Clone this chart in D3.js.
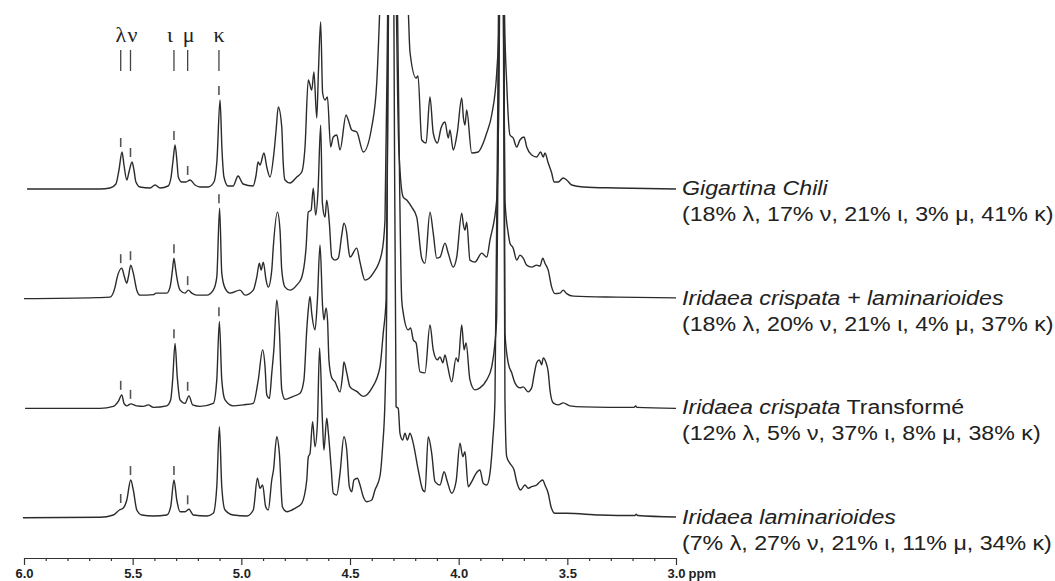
<!DOCTYPE html>
<html>
<head>
<meta charset="utf-8">
<script src="https://cdn.jsdelivr.net/npm/d3@7"></script>
<style>
  body { margin: 0; background: #fff; }
  svg { display: block; }
</style>
</head>
<body>
<div class="canvas"></div>
<script>
// samples, top to bottom
const sampleItalic = ["Gigartina Chili", "Iridaea crispata + laminarioides", "Iridaea crispata", "Iridaea laminarioides"];
const sampleRoman = ["", "", " Transformé", ""];

// carrageenan composition (%)
const pctLambda = [18, 18, 12, 7];
const pctNu = [17, 20, 5, 27];
const pctIota = [21, 21, 37, 21];
const pctMu = [3, 4, 8, 11];
const pctKappa = [41, 37, 38, 34];

// anomeric signals (ppm)
const signals = ["λ", "ν", "ι", "μ", "κ"];
const signalPpm = [5.555, 5.51, 5.31, 5.247, 5.103];
const markedSignals = [
  ["λ", "ν", "ι", "μ", "κ"],
  ["λ", "ν", "ι", "μ", "κ"],
  ["λ", "ν", "ι", "μ", "κ"],
  ["λ", "ν", "ι", "μ"]
];

// axis ticks
const majorTicks = [6.0, 5.5, 5.0, 4.5, 4.0, 3.5, 3.0];
const majorLabels = ["6.0", "5.5", "5.0", "4.5", "4.0", "3.5", "3.0"];
const minorTicks = [5.9, 5.8, 5.7, 5.6, 5.4, 5.3, 5.2, 5.1, 4.9, 4.8, 4.7, 4.6, 4.4, 4.3, 4.2, 4.1,
  3.9, 3.8, 3.7, 3.6, 3.4, 3.3, 3.2, 3.1];

// spectra: [ppm, intensity]
const specGigartina = [
  [5.986, 0], [5.650, 0], [5.604, 1], [5.577, 5], [5.563, 19], [5.549, 37], [5.540, 24], [5.527, 9],
  [5.517, 17], [5.503, 27], [5.494, 19], [5.485, 7], [5.466, 2], [5.420, 1], [5.397, 4], [5.374, 1],
  [5.337, 3], [5.324, 11], [5.314, 29], [5.305, 44], [5.296, 27], [5.290, 12], [5.274, 7], [5.255, 7],
  [5.236, 9], [5.213, 4], [5.190, 2], [5.153, 2], [5.126, 7], [5.112, 29], [5.098, 89], [5.089, 39],
  [5.080, 12], [5.061, 3], [5.038, 3], [5.015, 13], [4.992, 5], [4.946, 3], [4.932, 14], [4.923, 27],
  [4.914, 24], [4.896, 36], [4.883, 22], [4.868, 12], [4.850, 36], [4.840, 59], [4.830, 82], [4.814, 62],
  [4.808, 29], [4.799, 9], [4.776, 6], [4.745, 12], [4.722, 17], [4.707, 42], [4.692, 109], [4.676, 99],
  [4.666, 117], [4.653, 71], [4.645, 119], [4.635, 167], [4.626, 96], [4.615, 89], [4.604, 92], [4.589, 42],
  [4.577, 52], [4.561, 54], [4.546, 39], [4.518, 74], [4.508, 69], [4.492, 59], [4.469, 57], [4.439, 37],
  [4.400, 62], [4.377, 106], [4.364, 174], [4.344, 320], [4.298, 700], [4.252, 320], [4.231, 174],
  [4.224, 137], [4.196, 111], [4.187, 113], [4.170, 49], [4.150, 46], [4.132, 92], [4.117, 56], [4.098, 46],
  [4.081, 61], [4.063, 67], [4.048, 51], [4.040, 59], [4.025, 39], [4.006, 57], [3.986, 91], [3.978, 71],
  [3.971, 64], [3.963, 79], [3.940, 36], [3.910, 37], [3.887, 46], [3.871, 56], [3.848, 74], [3.825, 116],
  [3.813, 174], [3.801, 700], [3.789, 174], [3.779, 106], [3.764, 54], [3.749, 51], [3.733, 42], [3.718, 49],
  [3.699, 52], [3.687, 42], [3.664, 34], [3.641, 32], [3.623, 37], [3.611, 32], [3.603, 36], [3.588, 26],
  [3.572, 16], [3.561, 7], [3.542, 7], [3.519, 11], [3.503, 9], [3.480, 4], [3.427, 2], [3.273, 1], [3.000, 0]
];

const specCrispLamin = [
  [6.000, 0], [5.665, 1], [5.604, 1.5], [5.581, 11.5], [5.571, 21.5], [5.550, 30.5], [5.540, 23.5], [5.527, 15.5],
  [5.519, 22.5], [5.509, 33.5], [5.497, 25.5], [5.481, 8.5], [5.466, 3.5], [5.405, 4], [5.393, 5.5], [5.343, 5.5],
  [5.328, 11.5], [5.317, 28.5], [5.310, 40.5], [5.303, 30.5], [5.297, 21.5], [5.282, 8.5], [5.259, 5.5],
  [5.244, 8.5], [5.228, 5.5], [5.205, 3.5], [5.159, 3.5], [5.129, 8.5], [5.113, 21.5], [5.100, 90.5],
  [5.090, 25.5], [5.075, 10.5], [5.052, 5.5], [5.006, 8.5], [4.983, 3.5], [4.945, 8.5], [4.929, 21.5],
  [4.917, 35.5], [4.909, 28.5], [4.899, 36.5], [4.886, 18.5], [4.876, 11.5], [4.860, 28.5], [4.853, 51.5],
  [4.834, 86.5], [4.822, 68.5], [4.814, 28.5], [4.799, 11.5], [4.776, 8.5], [4.745, 13.5], [4.722, 21.5],
  [4.702, 51.5], [4.692, 86.5], [4.679, 88.5], [4.669, 110.5], [4.658, 83.5], [4.647, 108.5], [4.635, 173.5],
  [4.627, 95.5], [4.615, 81.5], [4.607, 98.5], [4.595, 75.5], [4.584, 41.5], [4.569, 38.5], [4.554, 40.5],
  [4.538, 63.5], [4.528, 75.5], [4.515, 65.5], [4.508, 51.5], [4.500, 41.5], [4.469, 50.5], [4.454, 36.5],
  [4.431, 18.5], [4.393, 25.5], [4.354, 45.5], [4.339, 78.5], [4.327, 283.5], [4.307, 800], [4.286, 283.5],
  [4.275, 148.5], [4.255, 101.5], [4.238, 98.5], [4.216, 91.5], [4.193, 81.5], [4.170, 40.5], [4.155, 35.5],
  [4.132, 86.5], [4.117, 65.5], [4.101, 40.5], [4.086, 41.5], [4.063, 55.5], [4.048, 45.5], [4.025, 31.5],
  [4.009, 41.5], [3.986, 85.5], [3.978, 73.5], [3.971, 68.5], [3.963, 76.5], [3.948, 38.5], [3.925, 36.5],
  [3.894, 45.5], [3.871, 41.5], [3.856, 58.5], [3.825, 98.5], [3.812, 283.5], [3.801, 800], [3.794, 283.5],
  [3.787, 98.5], [3.772, 65.5], [3.764, 55.5], [3.749, 50.5], [3.733, 38.5], [3.718, 43.5], [3.703, 40.5],
  [3.687, 33.5], [3.664, 31.5], [3.641, 33.5], [3.626, 32.5], [3.613, 40.5], [3.603, 35.5], [3.588, 28.5],
  [3.572, 11.5], [3.557, 5], [3.534, 5.5], [3.519, 8.5], [3.503, 5], [3.472, 2.5], [3.273, 1.5], [3.000, 0.8]
];

const specCrispTransf = [
  [5.995, 0], [5.650, 0], [5.589, 2], [5.566, 7], [5.550, 13.5], [5.540, 5], [5.527, 2.5], [5.509, 4.5],
  [5.481, 2.5], [5.451, 2], [5.428, 3.5], [5.405, 1], [5.343, 2.5], [5.325, 8.5], [5.316, 28.5], [5.305, 65],
  [5.295, 32], [5.282, 8.5], [5.259, 5], [5.241, 12.5], [5.224, 3.5], [5.190, 2], [5.129, 5], [5.113, 28.5],
  [5.101, 87], [5.090, 28.5], [5.075, 8.5], [5.037, 2.5], [4.991, 3.5], [4.945, 5], [4.922, 28.5],
  [4.902, 58.5], [4.891, 42], [4.883, 13.5], [4.871, 10], [4.860, 35], [4.850, 60], [4.837, 108.5],
  [4.825, 78.5], [4.814, 18.5], [4.799, 9], [4.761, 12], [4.730, 15], [4.712, 28.5], [4.699, 78.5],
  [4.692, 98.5], [4.684, 112], [4.676, 95], [4.661, 78.5], [4.650, 108.5], [4.638, 163.5], [4.626, 101.5],
  [4.620, 88.5], [4.610, 100.5], [4.603, 86.5], [4.597, 48.5], [4.584, 30.5], [4.569, 26.5], [4.546, 16.5],
  [4.534, 33.5], [4.528, 46.5], [4.515, 35.5], [4.500, 21.5], [4.469, 17], [4.439, 12], [4.400, 20],
  [4.362, 41.5], [4.347, 75.5], [4.334, 108.5], [4.323, 393.5], [4.302, 800], [4.281, 393.5], [4.262, 108.5],
  [4.255, 95.5], [4.232, 78.5], [4.221, 80.5], [4.209, 68.5], [4.196, 65.5], [4.178, 36.5], [4.155, 35.5],
  [4.132, 83.5], [4.117, 58.5], [4.098, 48.5], [4.086, 51.5], [4.073, 45.5], [4.063, 53.5], [4.052, 43.5],
  [4.032, 26.5], [4.012, 50.5], [4.002, 46.5], [3.986, 83.5], [3.975, 58.5], [3.966, 65.5], [3.948, 28.5],
  [3.925, 18.5], [3.902, 20.5], [3.871, 28.5], [3.848, 41.5], [3.833, 65.5], [3.825, 91.5], [3.814, 393.5],
  [3.801, 800], [3.791, 393.5], [3.787, 75.5], [3.772, 45.5], [3.756, 35.5], [3.741, 25.5], [3.718, 20.5],
  [3.703, 21.5], [3.680, 16.5], [3.664, 20.5], [3.653, 33.5], [3.641, 45.5], [3.629, 48.5], [3.618, 43.5],
  [3.611, 50.5], [3.598, 45.5], [3.588, 36.5], [3.580, 18.5], [3.565, 5.5], [3.542, 3.5], [3.519, 5.5],
  [3.488, 2.5], [3.427, 1.5], [3.193, 1], [3.186, 2.5], [3.180, 1], [3.000, 0]
];

const specLamin = [
  [6.005, 0.3], [5.650, 0.7], [5.589, 3], [5.561, 8], [5.543, 10], [5.527, 18], [5.509, 38], [5.497, 28],
  [5.481, 8], [5.458, 3], [5.405, 2], [5.343, 3], [5.325, 11.3], [5.310, 38], [5.297, 18], [5.282, 6.3],
  [5.259, 6.3], [5.241, 8.7], [5.221, 3], [5.159, 2], [5.129, 4.7], [5.113, 31.3], [5.101, 91.3],
  [5.090, 31.3], [5.075, 8], [5.037, 3], [4.975, 2], [4.945, 8], [4.926, 39.7], [4.914, 29.7], [4.902, 33],
  [4.888, 11.3], [4.876, 8], [4.860, 38], [4.852, 48], [4.837, 81.3], [4.825, 64.7], [4.811, 11.3],
  [4.791, 6.3], [4.753, 9.7], [4.722, 14.7], [4.699, 38], [4.692, 61], [4.684, 64.7], [4.672, 96.3],
  [4.661, 71.3], [4.650, 94.7], [4.640, 170], [4.627, 98], [4.620, 68], [4.607, 99.7], [4.600, 86.3],
  [4.587, 51.3], [4.577, 24.7], [4.561, 23], [4.546, 44.7], [4.528, 81.3], [4.515, 68], [4.503, 31.3],
  [4.492, 26.3], [4.482, 38], [4.466, 39.7], [4.454, 33], [4.439, 21.3], [4.423, 16.3], [4.400, 18],
  [4.385, 28], [4.362, 42], [4.350, 71.3], [4.339, 118], [4.331, 218], [4.325, 503], [4.311, 1000],
  [4.298, 503], [4.288, 111.3], [4.278, 109.7], [4.270, 84.7], [4.258, 78], [4.247, 84.7], [4.236, 78],
  [4.224, 84.7], [4.209, 74.7], [4.186, 48], [4.165, 28], [4.155, 26.3], [4.140, 81.3], [4.124, 64.7],
  [4.109, 36.3], [4.086, 33], [4.067, 46.3], [4.052, 36.3], [4.032, 24.7], [4.012, 36.3], [3.994, 74.7],
  [3.981, 61.3], [3.971, 66.3], [3.956, 31.3], [3.940, 36.3], [3.920, 44.7], [3.902, 48], [3.887, 34.7],
  [3.871, 33], [3.856, 44.7], [3.843, 78], [3.833, 118], [3.817, 503], [3.801, 1000], [3.794, 503],
  [3.787, 118], [3.779, 61.3], [3.764, 54.7], [3.745, 48], [3.733, 36.3], [3.715, 28], [3.695, 33],
  [3.680, 29.7], [3.664, 31.3], [3.641, 33], [3.626, 36.3], [3.613, 38], [3.603, 33], [3.588, 24.7],
  [3.575, 11.3], [3.557, 4.7], [3.503, 4.7], [3.350, 3], [3.189, 2.5], [3.183, 3.7], [3.177, 2.5], [3.000, 1]
];

const spectra = [specGigartina, specCrispLamin, specCrispTransf, specLamin];

// dimensions
const w = 1055;
const h = 581;
const axisY = 558;
const clipTop = 15;
const labelX = 682;

const svg = d3.select(".canvas").append("svg").attr("width", w).attr("height", h);
svg.append("rect").attr("width", w).attr("height", h).attr("fill", "#fff");

// scales
const x = d3.scaleLinear().domain([6.0, 3.0]).range([24, 676]);
const row = d3.scalePoint().domain(d3.range(spectra.length)).range([189, 518]);
const yInt = d3.scaleLinear().domain([0, 100]).range([0, -100]);

svg.append("clipPath").attr("id", "clip")
  .append("rect").attr("x", 0).attr("y", clipTop).attr("width", w).attr("height", h - clipTop);

const line = d3.line()
  .x((d) => x(d[0]))
  .y((d) => yInt(d[1]))
  .curve(d3.curveMonotoneX);

// spectra
const plots = svg.append("g").attr("clip-path", "url(#clip)");
spectra.forEach((spec, i) => {
  plots.append("path")
    .datum(spec.map((d) => [d[0], d[1]]).sort((a, b) => b[0] - a[0]))
    .attr("transform", `translate(0, ${row(i)})`)
    .attr("d", line)
    .attr("fill", "none")
    .attr("stroke", "#2b2b2b")
    .attr("stroke-width", 1.4)
    .attr("stroke-linejoin", "round");
});

// small markers above assigned peaks
function peakHeight(spec, ppm) {
  return d3.max(spec.filter((d) => Math.abs(d[0] - ppm) <= 0.012), (d) => d[1]) || 0;
}
spectra.forEach((spec, i) => {
  markedSignals[i].forEach((s) => {
    const ppm = signalPpm[signals.indexOf(s)];
    const top = peakHeight(spec, ppm);
    svg.append("line")
      .attr("x1", x(ppm)).attr("x2", x(ppm))
      .attr("y1", row(i) + yInt(top + 5))
      .attr("y2", row(i) + yInt(top + 14))
      .attr("stroke", "#555")
      .attr("stroke-width", 1.6);
  });
});

// header with signal names
const headerDx = [0, 2, -4, 1, 0];
signals.forEach((s, i) => {
  const px = x(signalPpm[i]);
  svg.append("line")
    .attr("x1", px).attr("x2", px)
    .attr("y1", 50).attr("y2", 71)
    .attr("stroke", "#444")
    .attr("stroke-width", 1.3);
  svg.append("text")
    .attr("x", px + headerDx[i])
    .attr("y", 42)
    .attr("text-anchor", "middle")
    .attr("font-family", "'Liberation Serif', 'DejaVu Serif', serif")
    .attr("font-size", 22)
    .attr("fill", "#222")
    .text(s);
});

// sample labels
spectra.forEach((spec, i) => {
  const g = svg.append("g")
    .attr("transform", `translate(${labelX}, ${row(i) + 6}) scale(1.16, 1)`)
    .attr("font-family", "'Liberation Sans', Arial, sans-serif")
    .attr("font-size", 20)
    .attr("fill", "#222");
  const t1 = g.append("text").attr("x", 0).attr("y", 0);
  t1.append("tspan").attr("font-style", "italic").text(sampleItalic[i]);
  if (sampleRoman[i]) t1.append("tspan").text(sampleRoman[i]);
  g.append("text")
    .attr("x", 0)
    .attr("y", 26)
    .text(`(${pctLambda[i]}% λ, ${pctNu[i]}% ν, ${pctIota[i]}% ι, ${pctMu[i]}% μ, ${pctKappa[i]}% κ)`);
});

// x-axis
const xAxis = d3.axisBottom(x)
  .tickValues(majorTicks)
  .tickSize(7)
  .tickSizeOuter(0)
  .tickPadding(4)
  .tickFormat((d, i) => majorLabels[i]);
const axisG = svg.append("g").attr("transform", `translate(0, ${axisY})`).call(xAxis);
axisG.selectAll("text")
  .attr("font-family", "'Liberation Sans', Arial, sans-serif")
  .attr("font-size", 13)
  .attr("font-weight", "bold")
  .attr("fill", "#222");
axisG.selectAll("line, path").attr("stroke", "#333").attr("stroke-width", 1.2);

// "ppm" after the last tick label
axisG.selectAll(".tick").filter((d) => d === 3.0)
  .append("text")
  .attr("x", 12)
  .attr("y", 11)
  .attr("dy", "0.71em")
  .attr("text-anchor", "start")
  .attr("font-family", "'Liberation Sans', Arial, sans-serif")
  .attr("font-size", 13)
  .attr("font-weight", "bold")
  .attr("fill", "#222")
  .text("ppm");

// minor ticks
const minorAxis = d3.axisBottom(x).tickValues(minorTicks).tickSize(3).tickSizeOuter(0).tickFormat("");
const minorG = svg.append("g").attr("transform", `translate(0, ${axisY})`).call(minorAxis);
minorG.select(".domain").remove();
minorG.selectAll("line").attr("stroke", "#333").attr("stroke-width", 1.2);
</script>
</body>
</html>
